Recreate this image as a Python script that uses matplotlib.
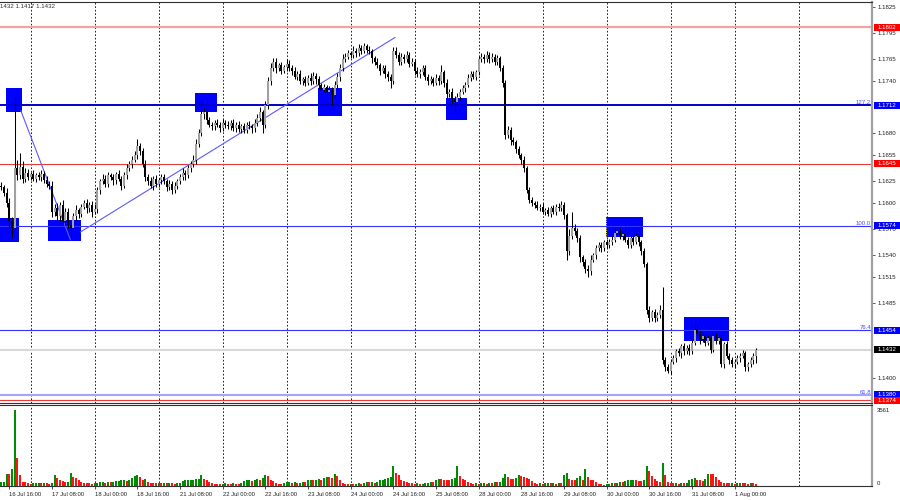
import numpy as np
import matplotlib
matplotlib.use("Agg")
import matplotlib.pyplot as plt
from matplotlib.patches import Rectangle

# ---------------- data (H1 bars, index 0 = 16 Jul 00:00) ----------------
FIRST_BAR = 13
first_open_pips = 620          # pips above 1.1000
close_pips = [
    618, 612, 600, 580, 572, 640, 632, 642, 628, 635,
    630, 633, 628, 632, 630, 634, 627, 622, 620, 590,
    595, 585, 598, 580, 590, 575, 572, 585, 592, 588,
    596, 600, 594, 598, 590, 593, 615, 625, 628, 622,
    632, 630, 626, 633, 628, 620, 632, 640, 645, 650,
    655, 665, 660, 645, 630, 625, 620, 628, 622, 626,
    630, 625, 618, 622, 615, 620, 625, 630, 635, 632,
    640, 645, 650, 668, 680, 702, 705, 695, 690, 688,
    692, 690, 686, 692, 690, 688, 692, 686, 690, 685,
    688, 684, 690, 688, 686, 692, 698, 704, 690, 712,
    740, 755, 762, 755, 758, 752, 756, 760, 755, 752,
    745, 748, 740, 742, 738, 744, 740, 746, 742, 735,
    730, 733, 728, 730, 724, 735, 745, 755, 765, 768,
    772, 770, 775, 772, 778, 775, 780, 776, 774, 766,
    762, 758, 752, 755, 748, 745, 740, 775, 770, 762,
    768, 765, 770, 760, 762, 752, 748, 750, 755, 745,
    740, 742, 738, 744, 740, 750, 738, 725, 728, 720,
    716, 722, 728, 732, 736, 744, 748, 745, 750, 765,
    768, 765, 770, 765, 768, 762, 766, 755, 738, 678,
    684, 672, 670, 662, 655, 650, 640, 615, 604, 600,
    598, 595, 596, 590, 592, 588, 594, 590, 596, 594,
    598, 586, 545, 562, 572, 568, 560, 538, 532, 525,
    522, 535, 540, 548, 552, 548, 555, 552, 556, 558,
    566, 568, 562, 565, 558, 552, 560, 556, 562, 555,
    545, 530, 478, 468, 475, 468, 472, 478, 420, 412,
    408, 418, 422, 430, 428, 436, 430, 434, 430, 440,
    455, 450, 444, 448, 440, 445, 432, 448, 442, 445,
    415, 438, 425, 420, 415, 418, 422, 425, 428, 412,
    415, 420, 425, 432,
]
upper_wick_pips = [
    4, 3, 5, 6, 4, 83, 10, 16, 6, 5,
    4, 3, 5, 3, 4, 4, 3, 4, 3, 5,
    4, 5, 3, 6, 4, 5, 3, 4, 6, 3,
    3, 4, 5, 3, 4, 6, 4, 3, 5, 4,
    4, 3, 4, 3, 5, 3, 4, 5, 3, 4,
    5, 9, 4, 3, 4, 3, 5, 3, 4, 3,
    3, 4, 3, 4, 3, 4, 3, 4, 5, 3,
    4, 3, 5, 6, 5, 16, 4, 3, 4, 3,
    3, 4, 3, 4, 3, 4, 3, 4, 3, 4,
    3, 4, 3, 4, 3, 5, 4, 6, 3, 5,
    5, 6, 5, 4, 3, 4, 3, 5, 4, 3,
    4, 3, 5, 3, 4, 3, 5, 4, 3, 4,
    3, 4, 3, 4, 3, 5, 4, 5, 6, 4,
    4, 3, 5, 3, 4, 3, 4, 3, 4, 3,
    3, 4, 3, 4, 3, 4, 3, 4, 4, 3,
    4, 3, 4, 3, 4, 3, 4, 4, 3, 4,
    3, 4, 3, 4, 3, 8, 3, 4, 3, 4,
    3, 4, 3, 4, 3, 4, 3, 4, 3, 4,
    4, 3, 5, 3, 4, 3, 4, 3, 4, 3,
    4, 3, 4, 3, 4, 3, 4, 3, 4, 3,
    3, 4, 3, 4, 3, 4, 3, 4, 3, 4,
    4, 3, 3, 8, 18, 4, 3, 4, 3, 4,
    4, 5, 3, 4, 3, 4, 3, 4, 3, 4,
    5, 3, 4, 3, 4, 3, 4, 3, 4, 3,
    3, 4, 3, 4, 3, 4, 3, 5, 26, 4,
    4, 3, 4, 3, 4, 3, 4, 3, 4, 3,
    7, 4, 3, 4, 3, 4, 3, 4, 3, 4,
    4, 3, 4, 3, 4, 3, 4, 3, 4, 3,
    3, 4, 3, 2,
]
lower_wick_pips = [
    3, 4, 4, 14, 12, 3, 6, 4, 5, 4,
    3, 4, 3, 4, 3, 5, 4, 3, 4, 6,
    5, 4, 6, 3, 5, 4, 12, 3, 4, 5,
    4, 3, 5, 4, 6, 3, 4, 5, 3, 4,
    3, 4, 5, 4, 3, 5, 3, 4, 3, 5,
    3, 4, 5, 4, 5, 4, 3, 5, 3, 4,
    4, 3, 4, 3, 5, 3, 4, 3, 4, 5,
    3, 4, 3, 5, 4, 3, 5, 4, 3, 4,
    4, 3, 4, 3, 4, 3, 4, 3, 4, 3,
    4, 3, 4, 3, 5, 4, 3, 4, 10, 4,
    4, 5, 4, 6, 3, 4, 3, 4, 3, 5,
    3, 4, 3, 5, 4, 3, 4, 3, 5, 4,
    5, 3, 4, 3, 11, 4, 3, 5, 4, 3,
    3, 4, 3, 4, 3, 4, 3, 4, 3, 5,
    4, 3, 5, 3, 4, 5, 8, 3, 4, 3,
    3, 4, 3, 4, 3, 5, 3, 4, 3, 4,
    4, 3, 4, 3, 4, 3, 5, 4, 3, 5,
    11, 3, 4, 3, 4, 3, 4, 3, 4, 3,
    3, 4, 3, 4, 3, 4, 3, 4, 5, 4,
    3, 5, 3, 4, 3, 5, 4, 3, 4, 3,
    4, 3, 4, 3, 4, 3, 4, 3, 4, 3,
    3, 4, 10, 4, 3, 5, 4, 5, 4, 5,
    7, 4, 3, 4, 3, 4, 3, 4, 3, 4,
    3, 4, 3, 4, 3, 4, 3, 4, 3, 4,
    4, 3, 5, 4, 3, 4, 3, 4, 4, 5,
    3, 4, 3, 4, 3, 6, 4, 3, 4, 3,
    3, 4, 5, 3, 4, 3, 4, 3, 4, 3,
    3, 4, 3, 4, 3, 4, 3, 4, 3, 4,
    4, 3, 4, 8,
]
volumes = [
    190, 200, 585, 560, 774, 3561, 1327, 506, 190, 170,
    142, 110, 120, 140, 160, 130, 140, 120, 110, 140,
    506, 395, 300, 237, 190, 200, 632, 427, 395, 300,
    190, 150, 130, 120, 110, 120, 150, 170, 190, 160,
    190, 180, 200, 220, 237, 260, 269, 250, 300, 380,
    460, 506, 420, 300, 320, 190, 160, 140, 130, 150,
    120, 140, 130, 150, 120, 110, 130, 160, 237, 260,
    269, 290, 300, 330, 350, 537, 348, 269, 190, 142,
    110, 90, 80, 100, 120, 110, 90, 120, 110, 80,
    120, 237, 260, 269, 237, 300, 350, 300, 380, 537,
    458, 300, 237, 142, 110, 100, 142, 170, 190, 160,
    190, 142, 160, 190, 170, 269, 300, 260, 300, 348,
    300, 380, 420, 400, 380, 585, 458, 300, 142, 110,
    90, 110, 80, 100, 120, 110, 160, 190, 170, 190,
    142, 190, 269, 300, 348, 380, 427, 932, 616, 506,
    300, 237, 190, 142, 130, 110, 120, 90, 110, 130,
    160, 190, 190, 300, 348, 348, 300, 300, 300, 348,
    370, 932, 458, 348, 269, 190, 142, 110, 142, 110,
    130, 142, 110, 160, 140, 190, 170, 190, 395, 560,
    427, 348, 348, 395, 530, 458, 427, 395, 348, 237,
    142, 110, 120, 110, 130, 142, 120, 130, 110, 142,
    120, 521, 632, 348, 300, 269, 395, 458, 300, 774,
    427, 300, 269, 190, 110, 80, 70, 80, 110, 130,
    120, 142, 190, 190, 237, 260, 269, 300, 269, 250,
    237, 269, 932, 711, 458, 348, 237, 190, 1090, 506,
    190, 142, 120, 130, 110, 142, 130, 142, 269, 348,
    395, 300, 269, 237, 348, 585, 585, 570, 427, 300,
    190, 160, 142, 120, 142, 110, 130, 142, 130, 120,
    110, 130, 120, 90,
]

# horizontal levels
level_prices = [1.1802, 1.1712, 1.1645, 1.1574, 1.1454, 1.1432, 1.1380, 1.1374]
level_kinds = ["res_light", "fib_main", "res", "fib", "fib", "bid", "fib_light", "res"]
fib_level_names = {1.1712: "127.2", 1.1574: "100.0", 1.1454: "76.4", 1.1380: "61.8"}
price_ticks = [1.1825, 1.1795, 1.1765, 1.1740, 1.1680, 1.1655, 1.1625,
               1.1600, 1.1570, 1.1540, 1.1515, 1.1485, 1.1400]

# highlighted zones: (bar start, bar end, price low, price high)
zones = [
    (12.4, 19.6, 1.15550, 1.15830),
    (14.7, 20.7, 1.17045, 1.17320),
    (30.5, 42.9, 1.15566, 1.15810),
    (85.6, 93.9, 1.17045, 1.17260),
    (131.7, 140.7, 1.17000, 1.17320),
    (179.7, 187.6, 1.16950, 1.17206),
    (239.7, 253.6, 1.15610, 1.15840),
    (268.8, 285.7, 1.14420, 1.14694),
]
# trend lines: ((bar, price), (bar, price))
trend_lines = [
    ((20.3, 1.17060), (38.9, 1.15580)),
    ((42.7, 1.15670), (160.6, 1.17900)),
]

day_start_bars = list(range(24, 313, 24))
time_label_bars = list(range(16, 289, 16))
time_labels = ["16 Jul 16:00", "17 Jul 08:00", "18 Jul 00:00", "18 Jul 16:00",
               "21 Jul 08:00", "22 Jul 00:00", "22 Jul 16:00", "23 Jul 08:00",
               "24 Jul 00:00", "24 Jul 16:00", "25 Jul 08:00", "28 Jul 00:00",
               "28 Jul 16:00", "29 Jul 08:00", "30 Jul 00:00", "30 Jul 16:00",
               "31 Jul 08:00", "1 Aug 00:00"]
header_text = "1432 1.1417 1.1432"

# ---------------- derived series ----------------
BASE = 1.1
closes = BASE + np.array(close_pips) / 10000.0
opens = np.concatenate([[BASE + first_open_pips / 10000.0], closes[:-1]])
highs = np.maximum(opens, closes) + np.array(upper_wick_pips) / 10000.0
lows = np.minimum(opens, closes) - np.array(lower_wick_pips) / 10000.0
bars = np.arange(FIRST_BAR, FIRST_BAR + len(close_pips))
vols = np.array(volumes, dtype=float)
assert len(closes) == len(upper_wick_pips) == len(lower_wick_pips) == len(vols)

# ---------------- figure ----------------
W, H = 900, 500
FONT = "Liberation Sans"
plt.rcParams["font.family"] = [FONT, "DejaVu Sans"]
fig = plt.figure(figsize=(W / 100, H / 100), dpi=100, facecolor="white")


def px_axes(x0, y0, x1, y1):
    return fig.add_axes([x0 / W, 1 - y1 / H, (x1 - x0) / W, (y1 - y0) / H])


ax = px_axes(0, 2, 872, 403)
axv = px_axes(0, 405, 872, 486)
XLIM = (24 - 30.7 * 3 / 8, 24 + (872 - 30.7) * 3 / 8)

for a in (ax, axv):
    a.set_xlim(*XLIM)
    a.set_facecolor("white")
    a.spines["left"].set_visible(False)
    a.spines["top"].set_color("#303030")
    a.spines["top"].set_linewidth(0.8)
    a.spines["bottom"].set_color("#303030")
    a.spines["bottom"].set_linewidth(0.8)
    a.spines["right"].set_color("#a0a0a0")
    a.spines["right"].set_linewidth(1.6)
    a.vlines(day_start_bars, 0, 1, transform=a.get_xaxis_transform(),
             colors="#000000", linestyles=(0, (2.0, 2.2)), linewidth=0.6, zorder=0.5)

ax.set_ylim(1.13708, 1.18307)

# zones (behind)
for b0, b1, p0, p1 in zones:
    ax.add_patch(Rectangle((b0, p0), b1 - b0, p1 - p0, facecolor="#0000ff",
                           edgecolor="none", zorder=1))
# selected-object dotted edge on one zone
gz = zones[6]
ax.plot([gz[0], gz[0]], [gz[2], gz[3]], color="#d8d800", lw=0.8,
        linestyle=(0, (1, 1)), zorder=1.2)

# horizontal levels
level_style = {
    "res_light": dict(color="#f4a2a2", lw=1.6),
    "fib_main": dict(color="#0000c8", lw=1.4),
    "res": dict(color="#e83c3c", lw=0.8),
    "fib": dict(color="#3434ff", lw=0.8),
    "bid": dict(color="#d8d8d8", lw=1.5),
    "fib_light": dict(color="#a4a4ff", lw=1.5),
}
box_color = {"res_light": "#ff0000", "fib_main": "#0000ff", "res": "#ff0000",
             "fib": "#0000ff", "bid": "#000000", "fib_light": "#0000ff"}
for p, k in zip(level_prices, level_kinds):
    st = level_style[k]
    ax.axhline(p, color=st["color"], lw=st["lw"], zorder=2)

# trend lines
for (b0, p0), (b1, p1) in trend_lines:
    ax.plot([b0, b1], [p0, p1], color="#5a5aff", lw=0.8, zorder=2.5)

# fib labels
for p, name in fib_level_names.items():
    ax.text(871 / 872, p + 0.00003, name, transform=ax.get_yaxis_transform(),
            ha="right", va="bottom", fontsize=4.3, color="#4a4aff", zorder=6)

# candles
up = closes >= opens
ax.vlines(bars, lows, highs, colors="#000000", linewidth=0.75, zorder=4)
body_bottom = np.minimum(opens, closes)
body_h = np.maximum(np.abs(closes - opens), 0.000012)
ax.bar(bars, body_h, bottom=body_bottom, width=0.72,
       color=np.where(up, "#a0a0a0", "#000000"), linewidth=0, zorder=5)

# right price scale
ax.yaxis.tick_right()
ax.set_yticks(price_ticks)
ax.set_yticklabels([f"{t:.4f}" for t in price_ticks])
ax.tick_params(axis="y", length=2.2, width=0.6, color="#404040", labelsize=4.4,
               pad=1.5, labelcolor="#202020")
ax.set_xticks([])

# level price boxes on scale
ytr = ax.get_yaxis_transform()
bh = 7.0 / 8720
for p, k in zip(level_prices, level_kinds):
    ax.add_patch(Rectangle((1.0025, p - bh / 2), 25.5 / 872, bh, transform=ytr,
                           facecolor=box_color[k], edgecolor="none",
                           clip_on=False, zorder=10))
    ax.text(1.0025 + 3 / 872, p, f"{p:.4f}", transform=ytr, ha="left", va="center",
            fontsize=4.4, color="white", clip_on=False, zorder=11)

# header
fig.text(0.5 / W, 1 - 6 / H, header_text, fontsize=4.4, color="#303030",
         ha="left", va="center")

# volume panel
vcol = ["#008c00"] + ["#008c00" if vols[i] > vols[i - 1] else "#ff1414"
                      for i in range(1, len(vols))]
axv.bar(bars, vols, width=0.75, color=vcol, linewidth=0, zorder=3)
vmax = vols.max()
axv.set_ylim(0, vmax * 81 / 76)
axv.set_yticks([])
vtr = axv.get_yaxis_transform()
axv.text(1.005, vmax, f"{int(vmax)}", transform=vtr, ha="left", va="center",
         fontsize=4.3, color="#202020", clip_on=False)
axv.text(1.005, 0, "0", transform=vtr, ha="left", va="bottom",
         fontsize=4.3, color="#202020", clip_on=False)

axv.set_xticks(time_label_bars)
axv.set_xticklabels(time_labels, ha="left")
axv.tick_params(axis="x", length=2.5, width=0.6, color="#303030", labelsize=4.2,
                pad=1.5, labelcolor="#202020")

fig.savefig("out.png", dpi=100, facecolor="white")
